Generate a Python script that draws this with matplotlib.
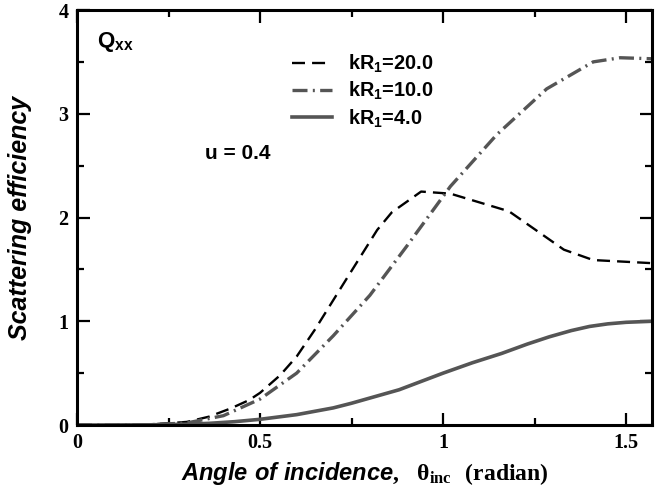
import matplotlib
matplotlib.use("Agg")
import matplotlib.pyplot as plt
import numpy as np
from matplotlib.ticker import MultipleLocator

plt.rcParams['mathtext.fontset'] = 'custom'
plt.rcParams['mathtext.rm'] = 'Liberation Serif:bold'
plt.rcParams['mathtext.it'] = 'Liberation Sans:bold:italic'
plt.rcParams['mathtext.bf'] = 'Liberation Sans:bold'
plt.rcParams['mathtext.sf'] = 'Liberation Sans:bold'

# data
x20 = [0.0, 0.1, 0.2, 0.3, 0.36, 0.42, 0.47, 0.5, 0.555, 0.6, 0.65, 0.74, 0.82, 0.86, 0.94, 1.02, 1.18, 1.33, 1.41, 1.5708]
y20 = [0.0, 0.0, 0.005, 0.03, 0.08, 0.16, 0.24, 0.31, 0.48, 0.66, 0.92, 1.43, 1.88, 2.05, 2.25, 2.23, 2.06, 1.69, 1.59, 1.56]

x10 = [0.0, 0.1, 0.2, 0.3, 0.4, 0.5, 0.6, 0.7, 0.8, 0.9, 1.02, 1.147, 1.283, 1.41, 1.484, 1.5708]
y10 = [0.0, 0.0, 0.003, 0.02, 0.09, 0.25, 0.50, 0.86, 1.25, 1.72, 2.30, 2.80, 3.24, 3.50, 3.54, 3.53]

x4 = [0.0, 0.1, 0.2, 0.3, 0.36, 0.43, 0.5, 0.6, 0.7, 0.75, 0.8, 0.88, 0.94, 1.0, 1.08, 1.16, 1.23, 1.29, 1.35, 1.40, 1.45, 1.5, 1.5708]
y4 = [0.0, 0.0, 0.002, 0.008, 0.016, 0.032, 0.055, 0.10, 0.165, 0.21, 0.26, 0.34, 0.42, 0.50, 0.60, 0.69, 0.78, 0.85, 0.91, 0.95, 0.975, 0.99, 1.0]

labels = [r"kR$_\mathbf{1}$=20.0", r"kR$_\mathbf{1}$=10.0", r"kR$_\mathbf{1}$=4.0"]
xticks = [0, 0.5, 1, 1.5]
xticklabels = ["0", "0.5", "1", "1.5"]
yticks = [0, 1, 2, 3, 4]
yticklabels = ["0", "1", "2", "3", "4"]

fig = plt.figure(figsize=(6.65, 4.93), dpi=100)
ax = fig.add_axes([0.1158, 0.1379, 0.8647, 0.8418])

gray = "#555555"
ax.plot(x20, y20, color="black", lw=1.7, dashes=(5.5, 3.0), label=labels[0])
ax.plot(x10, y10, color=gray, lw=2.4, dashes=(4.5, 1.6, 0.6, 1.6), label=labels[1])
ax.plot(x4, y4, color=gray, lw=2.6, label=labels[2])

ax.set_xlim(0, np.pi / 2)
ax.set_ylim(0, 4)
ax.set_xticks(xticks)
ax.set_xticklabels(xticklabels)
ax.set_yticks(yticks)
ax.set_yticklabels(yticklabels)
ax.xaxis.set_minor_locator(MultipleLocator(0.25))
ax.yaxis.set_minor_locator(MultipleLocator(0.5))

ax.tick_params(which="both", direction="in", top=True, right=True, width=1.6)
ax.tick_params(which="major", length=9, pad=6)
ax.tick_params(which="minor", length=5)
for lab in ax.get_xticklabels() + ax.get_yticklabels():
    lab.set_fontfamily("Liberation Serif")
    lab.set_fontweight("bold")
    lab.set_fontsize(14.5)
for s in ax.spines.values():
    s.set_linewidth(2.2)

ax.set_ylabel("Scattering efficiency", fontfamily="Liberation Sans", fontweight="bold",
              fontstyle="italic", fontsize=18, labelpad=19)
ax.set_xlabel(r"$\mathit{Angle\ of\ incidence,}\ \ \mathrm{θ}_{\mathrm{inc}}\ \ \mathrm{(radian)}$",
              fontsize=17, labelpad=5)

ax.text(0.035, 0.923, r"Q$_\mathbf{xx}$", transform=ax.transAxes, fontfamily="Liberation Sans",
        fontweight="bold", fontsize=16, va="center", ha="left")
ax.text(0.223, 0.655, "u = 0.4", transform=ax.transAxes, fontfamily="Liberation Sans",
        fontweight="bold", fontsize=15, va="center", ha="left")

leg = ax.legend(loc="upper left", bbox_to_anchor=(0.374, 0.897), frameon=False,
                prop={"family": "Liberation Sans", "weight": "bold", "size": 14.3},
                handlelength=2.0, handletextpad=0.8, labelspacing=0.25,
                borderpad=0, borderaxespad=0)

fig.savefig("out.png", dpi=100)
